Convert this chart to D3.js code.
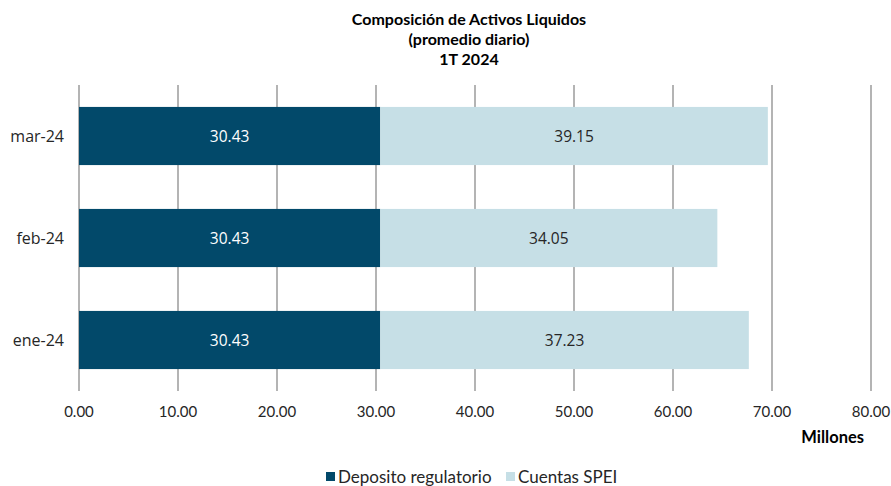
<!DOCTYPE html>
<html>
<head>
<meta charset="utf-8">
<script src="https://cdn.jsdelivr.net/npm/d3@7"></script>
<style>
  body { margin: 0; background: #ffffff; }
</style>
</head>
<body>
<svg id="chart"></svg>
<script>
const width = 891, height = 486;
const margin = {top: 85, bottom: 95, left: 79, right: 20};

const months = ["mar-24", "feb-24", "ene-24"];
const deposito = [30.43, 30.43, 30.43];
const cuentas = [39.15, 34.05, 37.23];
const xTicks = [0, 10, 20, 30, 40, 50, 60, 70, 80];
const seriesNames = ["Deposito regulatorio", "Cuentas SPEI"];
const colors = ["#02496a", "#c6dfe6"];

const svg = d3.select("#chart")
    .attr("width", width)
    .attr("height", height)
    .style("background", "#ffffff");

const xScale = d3.scaleLinear()
    .domain([0, 80])
    .range([margin.left, 871]);

const yScale = d3.scaleBand()
    .domain(months)
    .range([margin.top, height - margin.bottom])
    .paddingInner(0.43)
    .paddingOuter(0.215);

// vertical grid lines
svg.append("g")
    .selectAll("line")
    .data(xTicks)
    .join("line")
    .attr("x1", d => xScale(d))
    .attr("x2", d => xScale(d))
    .attr("y1", margin.top)
    .attr("y2", height - margin.bottom)
    .attr("stroke", "#8c8c8c")
    .attr("stroke-width", 1.3);

// stacked bars
const rows = months.map((m, i) => ({month: m, vals: [deposito[i], cuentas[i]]}));

rows.forEach(r => {
    let start = 0;
    r.vals.forEach((v, j) => {
        svg.append("rect")
            .attr("x", xScale(start))
            .attr("y", yScale(r.month))
            .attr("width", xScale(start + v) - xScale(start))
            .attr("height", yScale.bandwidth())
            .attr("fill", colors[j]);
        svg.append("text")
            .attr("x", xScale(start + v / 2))
            .attr("y", yScale(r.month) + yScale.bandwidth() / 2)
            .attr("text-anchor", "middle")
            .attr("dominant-baseline", "central")
            .style("font-family", "'Open Sans', sans-serif")
            .style("font-size", "15.5px")
            .style("fill", j === 0 ? "#ffffff" : "#262626")
            .text(v.toFixed(2));
        start += v;
    });
});

// category labels
svg.append("g")
    .selectAll("text")
    .data(months)
    .join("text")
    .attr("x", margin.left - 15)
    .attr("y", d => yScale(d) + yScale.bandwidth() / 2)
    .attr("text-anchor", "end")
    .attr("dominant-baseline", "central")
    .style("font-family", "'Open Sans', sans-serif")
    .style("font-size", "16px")
    .style("fill", "#262626")
    .text(d => d);

// x tick labels
svg.append("g")
    .selectAll("text")
    .data(xTicks)
    .join("text")
    .attr("x", d => xScale(d))
    .attr("y", 411)
    .attr("text-anchor", "middle")
    .attr("dominant-baseline", "central")
    .style("font-family", "Lato, sans-serif")
    .style("font-size", "15px")
    .style("fill", "#262626")
    .text(d => d.toFixed(2));

svg.append("text")
    .attr("x", 864)
    .attr("y", 437)
    .attr("text-anchor", "end")
    .attr("dominant-baseline", "central")
    .style("font-family", "Lato, sans-serif")
    .style("font-size", "16.5px")
    .style("font-weight", "bold")
    .style("fill", "#000000")
    .text("Millones");

// title
const title = ["Composición de Activos Liquidos", "(promedio diario)", "1T 2024"];
svg.append("g")
    .selectAll("text")
    .data(title)
    .join("text")
    .attr("x", 469)
    .attr("y", (d, i) => 18 + i * 20)
    .attr("text-anchor", "middle")
    .attr("dominant-baseline", "central")
    .style("font-family", "Lato, sans-serif")
    .style("font-size", "16px")
    .style("font-weight", "bold")
    .style("fill", "#000000")
    .text(d => d);

// legend
const legendX = [326, 506];
const legend = svg.append("g");
seriesNames.forEach((name, i) => {
    legend.append("rect")
        .attr("x", legendX[i])
        .attr("y", 472)
        .attr("width", 9)
        .attr("height", 9)
        .attr("fill", colors[i]);
    legend.append("text")
        .attr("x", legendX[i] + 12)
        .attr("y", 476)
        .attr("dominant-baseline", "central")
        .style("font-family", "Lato, sans-serif")
        .style("font-size", "17px")
        .style("fill", "#262626")
        .text(name);
});
</script>
</body>
</html>
